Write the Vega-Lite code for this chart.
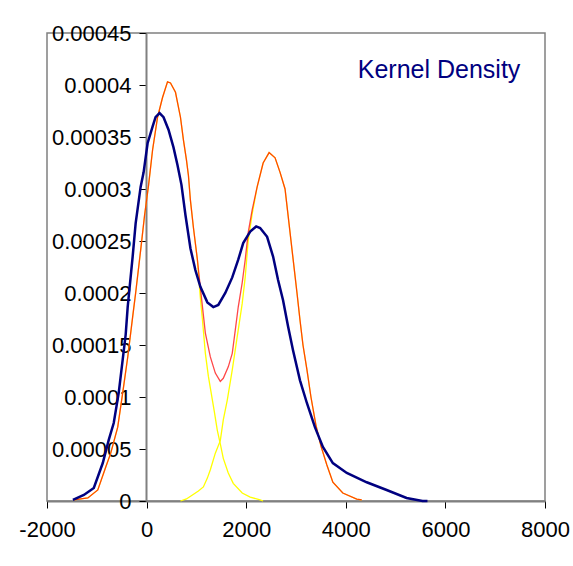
{
  "$schema": "https://vega.github.io/schema/vega-lite/v6.json",
  "width": 498,
  "height": 468,
  "autosize": {"type": "none"},
  "padding": {"left": 47, "top": 33, "right": 28, "bottom": 65},
  "background": "white",
  "config": {
    "view": {"stroke": "#808080", "strokeWidth": 1.5},
    "font": "Liberation Sans",
    "axis": {
      "grid": false,
      "title": null,
      "domainColor": "#808080",
      "domainWidth": 2,
      "tickColor": "#000000",
      "tickSize": 7,
      "tickWidth": 1,
      "labelFont": "Liberation Sans",
      "labelFontSize": 22,
      "labelColor": "#000000",
      "labelFlush": false,
      "labelOverlap": false,
      "labelBound": false
    }
  },
  "encoding": {
    "x": {
      "field": "x", "type": "quantitative",
      "scale": {"domain": [-2000, 8000], "nice": false, "zero": false},
      "axis": {"values": [-2000, 0, 2000, 4000, 6000, 8000], "labelExpr": "'' + datum.value", "labelPadding": 11}
    },
    "y": {
      "field": "y", "type": "quantitative",
      "scale": {"domain": [0, 0.00045], "nice": false},
      "axis": {"values": [0, 0.00005, 0.0001, 0.00015, 0.0002, 0.00025, 0.0003, 0.00035, 0.0004, 0.00045], "format": ".5~f", "offset": -99, "labelPadding": 8}
    }
  },
  "layer": [
    {
      "data": {"values": [
        {"x": -1460, "y": 0.000001}, {"x": -1180, "y": 0.0000029}, {"x": -980, "y": 0.0000106}, {"x": -820, "y": 0.0000327},
        {"x": -720, "y": 0.000046}, {"x": -580, "y": 0.000071}, {"x": -480, "y": 0.000104}, {"x": -380, "y": 0.000138},
        {"x": -280, "y": 0.000177}, {"x": -220, "y": 0.0002}, {"x": -120, "y": 0.000241}, {"x": -40, "y": 0.000275},
        {"x": 40, "y": 0.000304}, {"x": 120, "y": 0.0003375}, {"x": 220, "y": 0.000369}, {"x": 320, "y": 0.000388},
        {"x": 420, "y": 0.000403}, {"x": 480, "y": 0.000402}, {"x": 580, "y": 0.000393}, {"x": 680, "y": 0.000369},
        {"x": 740, "y": 0.000347}, {"x": 800, "y": 0.000328}, {"x": 840, "y": 0.000313}, {"x": 880, "y": 0.000289},
        {"x": 940, "y": 0.000263}, {"x": 1020, "y": 0.000232}, {"x": 1080, "y": 0.000195}, {"x": 1120, "y": 0.000175},
        {"x": 1180, "y": 0.000142}, {"x": 1240, "y": 0.00012}, {"x": 1300, "y": 0.000103}, {"x": 1360, "y": 0.000086},
        {"x": 1420, "y": 0.000068}, {"x": 1480, "y": 0.000055}, {"x": 1540, "y": 0.000041}, {"x": 1640, "y": 0.000027},
        {"x": 1740, "y": 0.000017}, {"x": 1920, "y": 0.0000077}, {"x": 2080, "y": 0.0000038}, {"x": 2280, "y": 0.000001},
        {"x": 2340, "y": 0}
      ]},
      "mark": {"type": "line", "color": "#FFFF00", "strokeWidth": 1.3}
    },
    {
      "data": {"values": [
        {"x": 680, "y": 0}, {"x": 800, "y": 0.000002}, {"x": 920, "y": 0.0000058}, {"x": 1040, "y": 0.0000096},
        {"x": 1140, "y": 0.0000135}, {"x": 1220, "y": 0.000022}, {"x": 1280, "y": 0.00003}, {"x": 1380, "y": 0.000046},
        {"x": 1480, "y": 0.000058}, {"x": 1540, "y": 0.000078}, {"x": 1620, "y": 0.000097}, {"x": 1720, "y": 0.000126},
        {"x": 1820, "y": 0.000158}, {"x": 1920, "y": 0.00019}, {"x": 1980, "y": 0.000215}, {"x": 2040, "y": 0.00025},
        {"x": 2120, "y": 0.000276}, {"x": 2220, "y": 0.000302}, {"x": 2340, "y": 0.000325}, {"x": 2460, "y": 0.000335},
        {"x": 2580, "y": 0.00033}, {"x": 2680, "y": 0.000316}, {"x": 2780, "y": 0.0003}, {"x": 2900, "y": 0.00025},
        {"x": 3020, "y": 0.0002}, {"x": 3080, "y": 0.000174}, {"x": 3140, "y": 0.00015}, {"x": 3220, "y": 0.000126},
        {"x": 3300, "y": 0.0001}, {"x": 3400, "y": 0.000073}, {"x": 3500, "y": 0.000053}, {"x": 3620, "y": 0.0000346},
        {"x": 3740, "y": 0.000018}, {"x": 3940, "y": 0.0000077}, {"x": 4220, "y": 0.0000019}, {"x": 4320, "y": 0.000001}
      ]},
      "mark": {"type": "line", "color": "#FFFF00", "strokeWidth": 1.3}
    },
    {
      "data": {"values": [
        {"x": -1460, "y": 0.000001}, {"x": -1180, "y": 0.0000029}, {"x": -980, "y": 0.0000106}, {"x": -820, "y": 0.0000327},
        {"x": -720, "y": 0.000046}, {"x": -580, "y": 0.000071}, {"x": -480, "y": 0.000104}, {"x": -380, "y": 0.000138},
        {"x": -280, "y": 0.000177}, {"x": -220, "y": 0.0002}, {"x": -120, "y": 0.000241}, {"x": -40, "y": 0.000275},
        {"x": 40, "y": 0.000304}, {"x": 120, "y": 0.0003375}, {"x": 220, "y": 0.000369}, {"x": 320, "y": 0.000388},
        {"x": 420, "y": 0.000403}, {"x": 480, "y": 0.000402}, {"x": 580, "y": 0.000393}, {"x": 680, "y": 0.000369},
        {"x": 740, "y": 0.000347}, {"x": 800, "y": 0.000328}, {"x": 840, "y": 0.000313}, {"x": 880, "y": 0.000289},
        {"x": 940, "y": 0.000263}, {"x": 1020, "y": 0.000232}, {"x": 1080, "y": 0.000205}, {"x": 1180, "y": 0.0001615},
        {"x": 1280, "y": 0.0001385}, {"x": 1380, "y": 0.000123}, {"x": 1480, "y": 0.000115}, {"x": 1540, "y": 0.000118},
        {"x": 1640, "y": 0.000129}, {"x": 1720, "y": 0.000142}, {"x": 1780, "y": 0.000164}, {"x": 1840, "y": 0.0001865},
        {"x": 1920, "y": 0.00021}, {"x": 1980, "y": 0.000232}, {"x": 2040, "y": 0.000258}, {"x": 2120, "y": 0.00028},
        {"x": 2220, "y": 0.000302}, {"x": 2340, "y": 0.000325}, {"x": 2460, "y": 0.000335}, {"x": 2580, "y": 0.00033},
        {"x": 2680, "y": 0.000316}, {"x": 2780, "y": 0.0003}, {"x": 2900, "y": 0.00025}, {"x": 3020, "y": 0.0002},
        {"x": 3080, "y": 0.000174}, {"x": 3140, "y": 0.00015}, {"x": 3220, "y": 0.000126}, {"x": 3300, "y": 0.0001},
        {"x": 3400, "y": 0.000073}, {"x": 3500, "y": 0.000053}, {"x": 3620, "y": 0.0000346}, {"x": 3740, "y": 0.000018},
        {"x": 3940, "y": 0.0000077}, {"x": 4220, "y": 0.0000019}, {"x": 4320, "y": 0.000001}
      ]},
      "mark": {"type": "line", "color": "#FF0000", "strokeWidth": 1.3, "strokeOpacity": 0.72}
    },
    {
      "data": {"values": [
        {"x": -1480, "y": 0.000001}, {"x": -1260, "y": 0.0000058}, {"x": -1060, "y": 0.0000125}, {"x": -880, "y": 0.0000365},
        {"x": -760, "y": 0.0000587}, {"x": -660, "y": 0.000075}, {"x": -560, "y": 0.000104}, {"x": -480, "y": 0.000136},
        {"x": -420, "y": 0.00016}, {"x": -380, "y": 0.0001865}, {"x": -280, "y": 0.000235}, {"x": -220, "y": 0.000267},
        {"x": -120, "y": 0.000302}, {"x": -60, "y": 0.000316}, {"x": 20, "y": 0.000344}, {"x": 120, "y": 0.00036},
        {"x": 180, "y": 0.000369}, {"x": 260, "y": 0.000373}, {"x": 340, "y": 0.000369}, {"x": 440, "y": 0.000357},
        {"x": 540, "y": 0.00034}, {"x": 620, "y": 0.000323}, {"x": 700, "y": 0.000304}, {"x": 780, "y": 0.000275},
        {"x": 880, "y": 0.000243}, {"x": 980, "y": 0.000222}, {"x": 1080, "y": 0.000206}, {"x": 1220, "y": 0.000191},
        {"x": 1340, "y": 0.0001865}, {"x": 1440, "y": 0.0001885}, {"x": 1580, "y": 0.0002}, {"x": 1720, "y": 0.000215},
        {"x": 1840, "y": 0.000232}, {"x": 1940, "y": 0.000248}, {"x": 2080, "y": 0.000259}, {"x": 2200, "y": 0.000264},
        {"x": 2280, "y": 0.0002625}, {"x": 2420, "y": 0.000254}, {"x": 2540, "y": 0.000235}, {"x": 2640, "y": 0.0002125},
        {"x": 2740, "y": 0.000193}, {"x": 2840, "y": 0.000168}, {"x": 2940, "y": 0.000145}, {"x": 3080, "y": 0.000116},
        {"x": 3220, "y": 0.000094}, {"x": 3380, "y": 0.000071}, {"x": 3540, "y": 0.000052}, {"x": 3740, "y": 0.0000365},
        {"x": 4020, "y": 0.000027}, {"x": 4420, "y": 0.000018}, {"x": 4820, "y": 0.0000106}, {"x": 5220, "y": 0.0000029},
        {"x": 5540, "y": 0}, {"x": 5640, "y": 0}
      ]},
      "mark": {"type": "line", "color": "#000080", "strokeWidth": 2.5}
    },
    {
      "data": {"values": [{"x": 4240, "y": 0.000414, "label": "Kernel Density"}]},
      "mark": {"type": "text", "align": "left", "baseline": "middle", "font": "Liberation Sans", "fontSize": 25, "color": "#000080"},
      "encoding": {"text": {"field": "label", "type": "nominal"}}
    }
  ]
}
